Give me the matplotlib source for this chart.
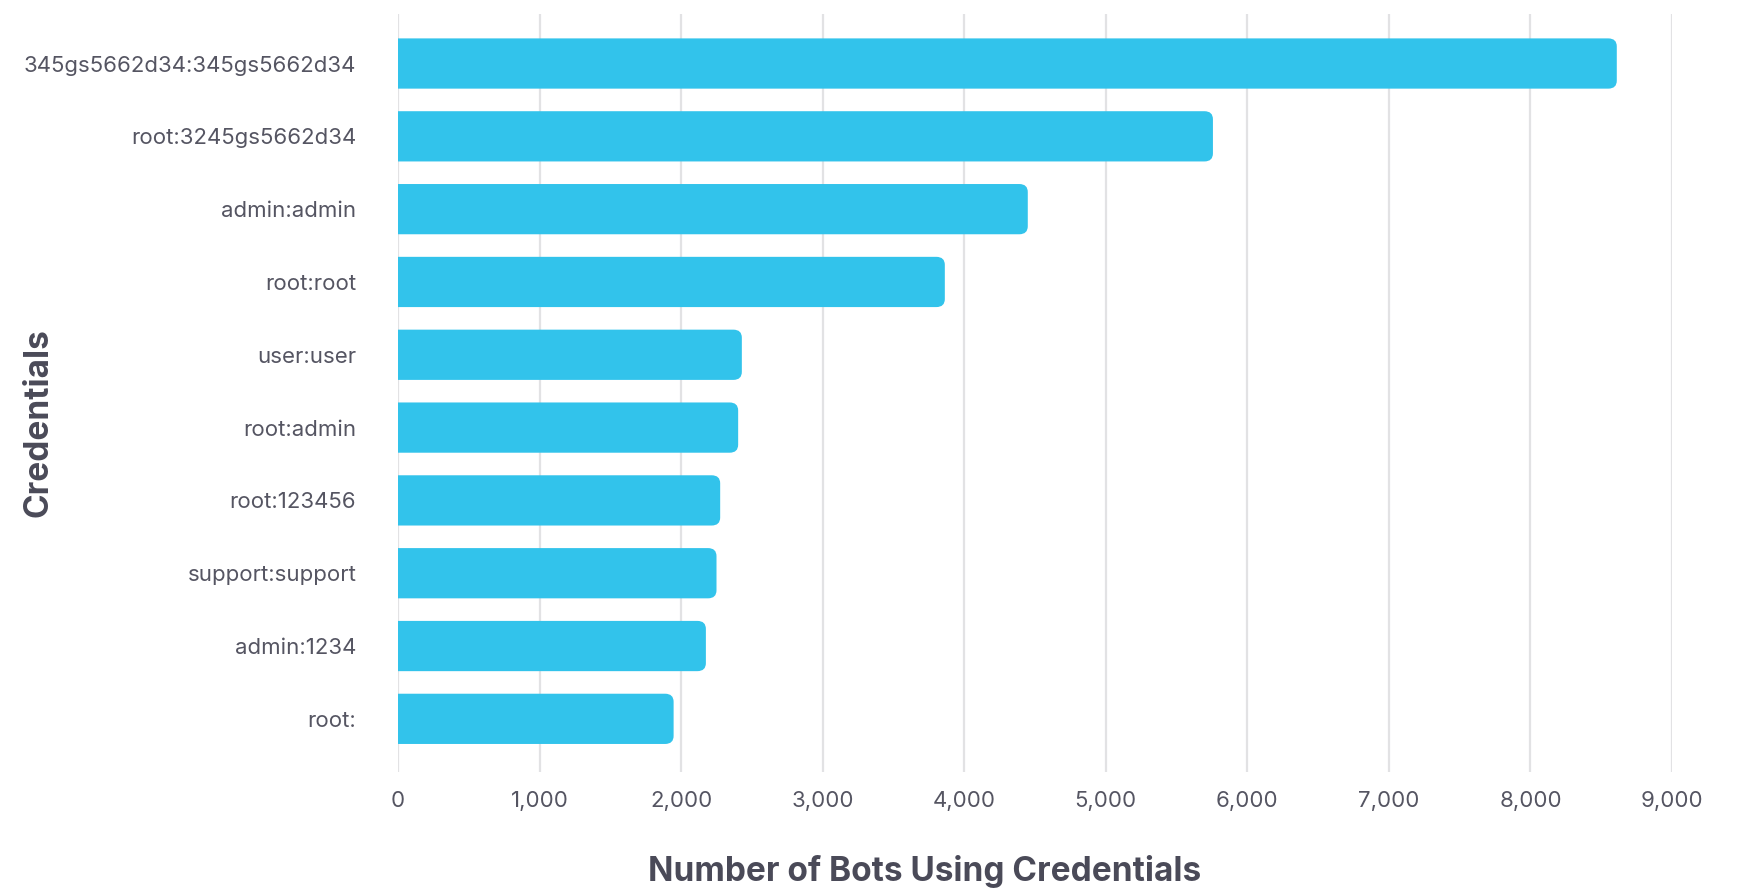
import matplotlib
matplotlib.use("Agg")
import matplotlib.pyplot as plt
from matplotlib.patches import FancyBboxPatch
from matplotlib.ticker import FuncFormatter

credentials = [
    "345gs5662d34:345gs5662d34",
    "root:3245gs5662d34",
    "admin:admin",
    "root:root",
    "user:user",
    "root:admin",
    "root:123456",
    "support:support",
    "admin:1234",
    "root:",
]
bots = [8610, 5757, 4449, 3863, 2429, 2403, 2276, 2250, 2175, 1947]
xticks = list(range(0, 9001, 1000))

bar_color = "#32c3eb"
text_color = "#555562"
label_color = "#4a4a58"
grid_color = "#e2e2e4"

plt.rcParams["font.family"] = ["Inter", "DejaVu Sans"]

fig = plt.figure(figsize=(17.39, 8.90), dpi=100)
ax = fig.add_axes([398 / 1739, 1 - 772 / 890, (1672 - 398) / 1739, (772 - 14) / 890])

pos = list(range(len(credentials)))
bars = ax.barh(pos, bots, height=0.69, color=bar_color, zorder=2)

ax.set_xlim(0, 9000)
ax.set_ylim(len(credentials) - 1 + 0.73, -0.68)

# rounded ends: replace each bar by a rounded box that starts left of 0,
# so the axes clip the left corners and only the right end stays round
r_x = 60
aspect = 0.11 / r_x
for b in bars:
    x0, y0, w, h = b.get_x(), b.get_y(), b.get_width(), b.get_height()
    b.set_visible(False)
    ax.add_patch(FancyBboxPatch((x0 - r_x * 2, y0), w + r_x * 2, h,
                                boxstyle=f"round,pad=0,rounding_size={r_x}",
                                mutation_aspect=aspect,
                                facecolor=bar_color, edgecolor="none", zorder=2))

ax.set_xticks(xticks)
ax.xaxis.set_major_formatter(FuncFormatter(lambda v, p: f"{int(v):,}"))
ax.set_yticks(pos, credentials)
ax.grid(axis="x", color=grid_color, linewidth=1.6, zorder=0)
ax.set_axisbelow(True)
for s in ax.spines.values():
    s.set_visible(False)
ax.tick_params(axis="both", length=0, labelsize=16, labelcolor=text_color)
ax.tick_params(axis="y", pad=30)
ax.tick_params(axis="x", pad=14)

fig.text(925 / 1739, 1 - 871 / 890, "Number of Bots Using Credentials",
         ha="center", va="center", fontsize=24, fontweight="bold", color=label_color)
fig.text(39 / 1739, 1 - 423 / 890, "Credentials", rotation=90,
         ha="center", va="center", fontsize=24, fontweight="bold", color=label_color)

fig.savefig("out.png", dpi=100)
